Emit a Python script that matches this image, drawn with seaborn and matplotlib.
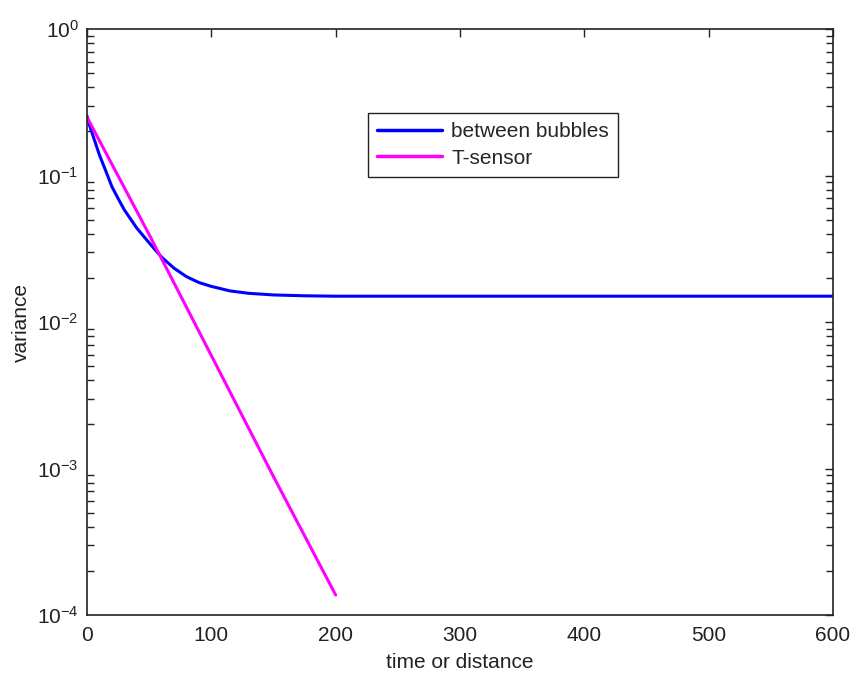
import numpy as np
import pandas as pd
import matplotlib
matplotlib.use("Agg")
import matplotlib.pyplot as plt
import seaborn as sns
from matplotlib.ticker import FixedLocator, FuncFormatter, LogLocator, NullFormatter

# ---- data ----
bubbles_x = [0, 2.4, 5, 10, 15, 20, 25, 30, 40, 50, 60, 70, 80, 90, 100,
             115, 130, 150, 175, 200, 300, 400, 500, 600]
bubbles_y = [0.255, 0.215, 0.185, 0.138, 0.108, 0.084, 0.0697, 0.0583, 0.0438,
             0.0347, 0.0277, 0.0233, 0.0204, 0.0186, 0.0175, 0.0163, 0.0157,
             0.0153, 0.0151, 0.0150, 0.0150, 0.0150, 0.0150, 0.0150]
tsensor_x = [0, 50, 100, 150, 200]
tsensor_y = [0.25, 0.0395, 0.0059, 0.00088, 0.000137]

series_names = ["between bubbles", "T-sensor"]
series_colors = ["#0000ff", "#ff00ff"]
x_ticks = [0, 100, 200, 300, 400, 500, 600]
y_decades = [1e-4, 1e-3, 1e-2, 1e-1, 1e0]
x_label = "time or distance"
y_label = "variance"

df = pd.concat([
    pd.DataFrame({"x": bubbles_x, "y": bubbles_y, "series": series_names[0]}),
    pd.DataFrame({"x": tsensor_x, "y": tsensor_y, "series": series_names[1]}),
])

sns.set_theme(style="white")
plt.rcParams["font.family"] = ["Liberation Sans", "DejaVu Sans"]
plt.rcParams["mathtext.fontset"] = "custom"
plt.rcParams["mathtext.rm"] = "Liberation Sans"
plt.rcParams["mathtext.it"] = "Liberation Sans"
plt.rcParams["mathtext.bf"] = "Liberation Sans"

FS = 15
fig = plt.figure(figsize=(8.5, 6.76), dpi=100)
ax = fig.add_axes([87/850, 61/676, 746/850, 586/676])

sns.lineplot(data=df, x="x", y="y", hue="series", palette=series_colors,
             hue_order=series_names, linewidth=2.2, ax=ax, sort=False,
             estimator=None)

ax.set_yscale("log")
ax.set_xlim(0, 600)
ax.set_ylim(1e-4, 1e0)
ax.xaxis.set_major_locator(FixedLocator(x_ticks))
ax.yaxis.set_major_locator(FixedLocator(y_decades))
ax.yaxis.set_minor_locator(LogLocator(base=10, subs=np.arange(2, 10), numticks=20))
ax.yaxis.set_minor_formatter(NullFormatter())
ax.yaxis.set_major_formatter(FuncFormatter(lambda v, p: r"$10^{%d}$" % int(round(np.log10(v)))))

ax.tick_params(axis="both", which="both", direction="in", top=True, right=True,
               colors="#222222", labelcolor="#222222", labelsize=FS, width=1.0)
ax.tick_params(axis="x", which="major", length=6, pad=8)
ax.tick_params(axis="y", which="major", length=6, pad=6)
ax.tick_params(axis="y", which="minor", length=5, left=True, right=True)
ax.tick_params(axis="x", which="minor", bottom=False, top=False)

for s in ax.spines.values():
    s.set_visible(True)
    s.set_color("#222222")
    s.set_linewidth(1.2)

ax.set_xlabel(x_label, fontsize=FS, color="#222222", labelpad=6)
ax.set_ylabel(y_label, fontsize=FS, color="#222222", labelpad=4)

leg = ax.legend(loc="upper left", bbox_to_anchor=((368-87)/746, (615-113)/586),
                borderaxespad=0, frameon=True, fancybox=False, fontsize=FS,
                handlelength=3.1, handletextpad=0.45, labelspacing=0.35,
                borderpad=0.45, title=None)
leg.get_frame().set_edgecolor("#222222")
leg.get_frame().set_linewidth(1.0)
leg.get_frame().set_alpha(1)
for line in leg.get_lines():
    line.set_linewidth(2.5)

fig.savefig("out.png", dpi=100, facecolor="white")
